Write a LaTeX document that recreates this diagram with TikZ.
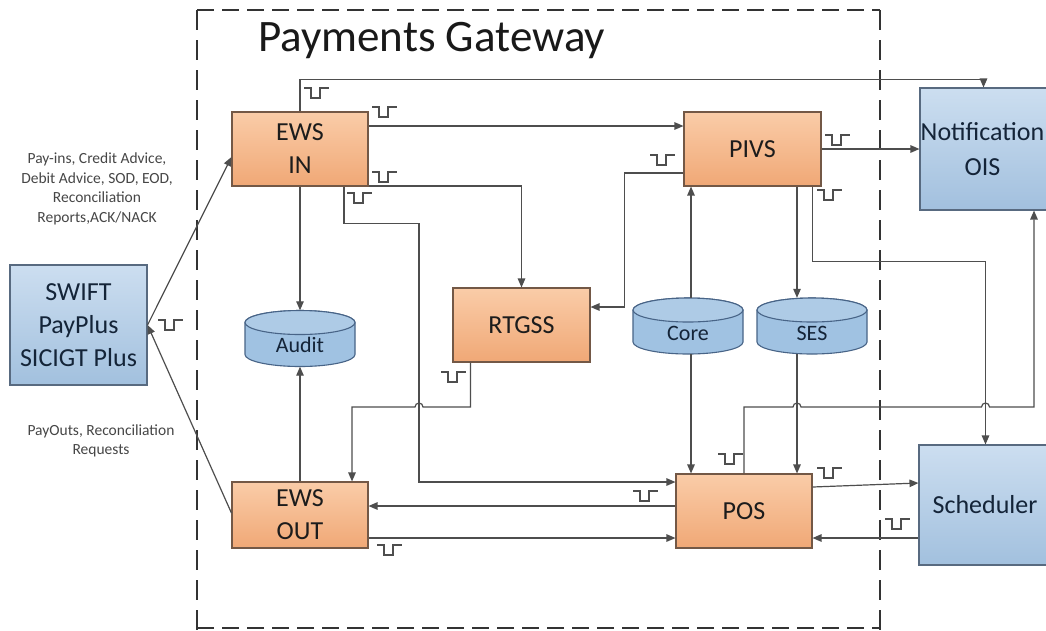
\documentclass[tikz,border=0pt]{standalone}
\usepackage{fontspec}
\setmainfont{Carlito}
\usetikzlibrary{arrows.meta}
\definecolor{otop}{RGB}{250,204,168}
\definecolor{obot}{RGB}{240,168,118}
\definecolor{obord}{RGB}{115,88,70}
\definecolor{btop}{RGB}{204,222,240}
\definecolor{bbot}{RGB}{162,192,222}
\definecolor{bbord}{RGB}{88,106,128}
\definecolor{cylfill}{RGB}{160,194,226}
\definecolor{cylbord}{RGB}{72,100,135}
\definecolor{lnc}{RGB}{78,78,78}
\definecolor{txc}{RGB}{28,28,28}
\definecolor{btxc}{RGB}{20,36,56}
\definecolor{lblc}{RGB}{70,70,70}
\begin{document}
\begin{tikzpicture}[x=1pt,y=-1pt,
  obox/.style={draw=obord, line width=1.1pt, top color=otop, bottom color=obot,
    align=center, font=\fontsize{26}{33}\selectfont, text=txc, inner sep=0pt},
  bbox/.style={draw=bbord, line width=1.1pt, top color=btop, bottom color=bbot,
    align=center, font=\fontsize{26}{33}\selectfont, text=btxc, inner sep=0pt},
  dbnode/.style={inner sep=0pt, minimum width=110pt, minimum height=56pt},
  dblbl/.style={font=\fontsize{22}{26}\selectfont, text=btxc, inner sep=0pt},
  line/.style={draw=lnc, line width=1.2pt},
  arr/.style={line, -{Triangle[length=9pt,width=7.5pt]}},
  lbl/.style={font=\fontsize{15.5}{19.5}\selectfont, text=lblc, align=center, inner sep=0pt},
  pulsestyle/.style={draw=lnc, line width=1.1pt},
  pulse/.pic={\draw[pulsestyle] (0,0) -- (7,0) -- (7,10) -- (16,10) -- (16,0) -- (25,0);},
  dbcyl/.pic={
    \path[fill=cylfill, draw=cylbord, line width=1.1pt] (-55,-16) -- (-55,16) arc (180:0:55 and 12) -- (55,-16) arc (0:-180:55 and 12) -- cycle;
    \path[fill=cylfill!85!white, draw=cylbord, line width=1.1pt] (0,-16) ellipse (55 and 12);
  }
]
\useasboundingbox (0,0) rectangle (1046,630);
\fill[white] (0,0) rectangle (1046,630);

% gateway boundary
\draw[line width=1.5pt, draw=black!80, dash pattern=on 17pt off 8pt] (197,10) -- (880,10);
\draw[line width=1.5pt, draw=black!80, dash pattern=on 20pt off 10pt] (197,10) -- (197,630);
\draw[line width=1.5pt, draw=black!80, dash pattern=on 20pt off 10pt] (880,10) -- (880,630);
\draw[line width=1.5pt, draw=black!80, dash pattern=on 17pt off 8pt] (197,628) -- (880,628);
\node[anchor=base west, font=\fontsize{45}{52}\selectfont, text=black!90, inner sep=0pt] (title) at (258,51) {Payments Gateway};

% boxes
\node[bbox, minimum width=137pt, minimum height=120pt] (swift) at (78.5,325) {SWIFT\\PayPlus\\SICIGT Plus};
\node[obox, minimum width=136pt, minimum height=74pt] (ewsin) at (300,149) {EWS\\IN};
\node[obox, minimum width=136pt, minimum height=66pt] (ewsout) at (300,515) {EWS\\OUT};
\node[obox, minimum width=137pt, minimum height=74pt] (rtgss) at (521.5,325) {RTGSS};
\node[obox, minimum width=137pt, minimum height=74pt] (pivs) at (752.5,149) {PIVS};
\node[obox, minimum width=136pt, minimum height=74pt] (pos) at (744,511) {POS};
\node[bbox, minimum width=133pt, minimum height=122pt] (notif) at (986.5,149) {};
\node[align=center, font=\fontsize{26}{35}\selectfont, text=btxc, inner sep=0pt] (notiftxt) at (982.5,149) {Notification\\OIS};
\node[bbox, minimum width=133pt, minimum height=120pt] (sched) at (985.5,505) {};
\node[font=\fontsize{26}{33}\selectfont, text=btxc, inner sep=0pt] (schedtxt) at (985,505) {Scheduler};

% databases
\pic at (300,338.5) {dbcyl};
\node[dbnode] (audit) at (300,338.5) {};
\node[dblbl] (auditl) at (300,345) {Audit};
\pic at (688,326) {dbcyl};
\node[dbnode] (core) at (688,326) {};
\node[dblbl] (corel) at (688,333) {Core};
\pic at (812,326) {dbcyl};
\node[dbnode] (ses) at (812,326) {};
\node[dblbl] (sesl) at (812,333) {SES};

% left labels
\node[lbl] (inlbl) at (97,189) {Pay-ins, Credit Advice,\\Debit Advice, SOD, EOD,\\Reconciliation\\Reports,ACK/NACK};
\node[lbl] (outlbl) at (101,441) {PayOuts, Reconciliation\\Requests};

% connectors
\draw[arr] (swift.east) -- ([yshift=-8]ewsin.west);
\draw[arr] ([yshift=2]ewsout.west) -- (swift.east);
\draw[arr] (ewsin.north) -- ++(0,-32) -| ([xshift=-3]notif.north);
\draw[arr] ([yshift=23]ewsin.east) -- ([yshift=23]pivs.west);
\draw[arr] ([yshift=-37]ewsin.east) -| (rtgss.north);
\draw[arr] ([xshift=44]ewsin.south) -- ++(0,37) -- ++(75,0) |- ([yshift=29]pos.west);
\draw[arr] (ewsin.south) -- (audit.north);
\draw[arr] (ewsout.north) -- (audit.south);
\draw[arr] ([xshift=-51]rtgss.south) |- (423,407) arc (0:-180:4) -| ([xshift=52]ewsout.north);
\draw[arr] ([yshift=-24]pivs.west) -- ++(-59,0) |- ([yshift=18]rtgss.east);
\draw[arr] ([xshift=3]core.north) -- ([xshift=3]core.north |- pivs.south);
\draw[arr] ([xshift=-15]ses.north |- pivs.south) -- ([xshift=-15]ses.north);
\draw[arr] (pivs.east) -- (notif.west);
\draw[arr] ([xshift=60]pivs.south) -- ++(0,75) -| (sched.north);
\draw[arr] (pos.north) |- (793,407) arc (180:360:4) -- (981.5,407) arc (180:360:4) -| ([xshift=47.5]notif.south);
\draw[arr] ([xshift=3]core.south) -- ([xshift=3]core.south |- pos.north);
\draw[arr] ([xshift=-15]ses.south) -- ([xshift=-15]ses.south |- pos.north);
\draw[arr] ([yshift=24]pos.east) -- ([yshift=22]sched.west);
\draw[arr] ([yshift=-33]sched.west) -- ([yshift=-27]pos.east);
\draw[arr] ([yshift=5]pos.west) -- ([yshift=9]ewsout.east);
\draw[arr] ([yshift=-23]ewsout.east) -- ([yshift=-27]pos.west);

% interface symbols
\pic at (158,320) {pulse};
\pic at (304,88) {pulse};
\pic at (372,107) {pulse};
\pic at (372,172) {pulse};
\pic at (347,193) {pulse};
\pic at (825,135) {pulse};
\pic at (650,155) {pulse};
\pic at (817,190) {pulse};
\pic at (441,372) {pulse};
\pic at (377,545) {pulse};
\pic at (718,454) {pulse};
\pic at (633,491) {pulse};
\pic at (817,468) {pulse};
\pic at (885,519) {pulse};
\end{tikzpicture}
\end{document}
